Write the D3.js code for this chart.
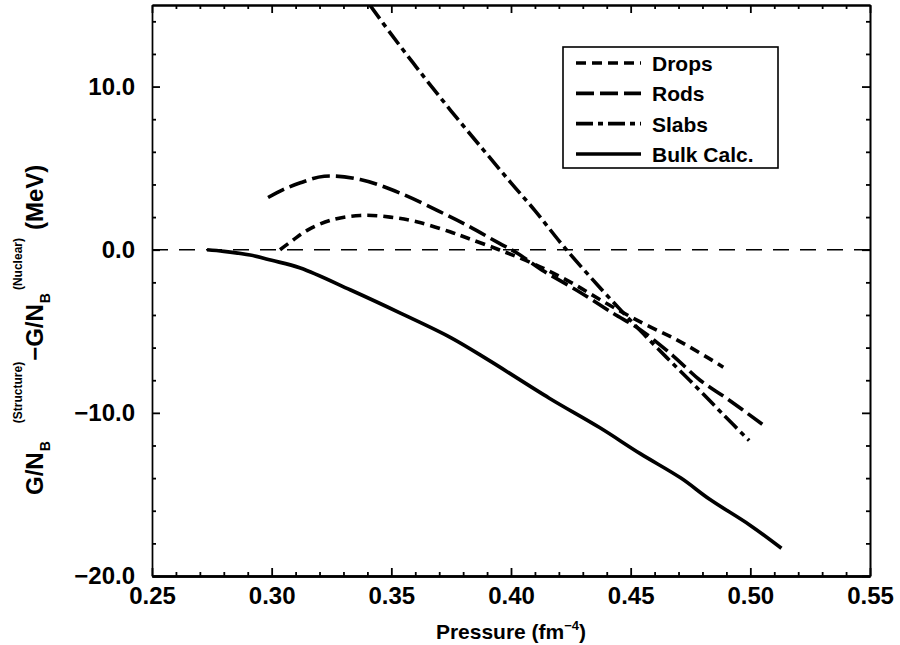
<!DOCTYPE html>
<html>
<head>
<meta charset="utf-8">
<script src="https://cdn.jsdelivr.net/npm/d3@7/dist/d3.min.js"></script>
<style>
  html, body { margin: 0; padding: 0; background: #fff; }
  svg { display: block; font-family: "Liberation Sans", Arial, Helvetica, sans-serif; font-weight: bold; }
</style>
</head>
<body>
<svg id="chart" width="900" height="645"></svg>
<script>
// ---------------- data ----------------
const seriesNames = ["Drops", "Rods", "Slabs", "Bulk Calc."];

const dropsX = [0.3035, 0.309, 0.315, 0.3245, 0.337, 0.3495, 0.361, 0.3745, 0.382, 0.395, 0.41, 0.425, 0.44, 0.455, 0.469, 0.482, 0.4887];
const dropsY = [0.0, 0.6, 1.2, 1.8, 2.1, 2.0, 1.7, 1.1, 0.7, 0.0, -0.9, -2.0, -3.3, -4.5, -5.5, -6.6, -7.2];

const rodsX = [0.2985, 0.305, 0.312, 0.322, 0.337, 0.354, 0.370, 0.3816, 0.395, 0.4025, 0.413, 0.4276, 0.4427, 0.454, 0.4677, 0.479, 0.490, 0.505];
const rodsY = [3.2, 3.7, 4.1, 4.5, 4.3, 3.45, 2.35, 1.5, 0.4, -0.2, -1.25, -2.5, -3.9, -4.9, -6.5, -8.0, -9.1, -10.7];

const slabsX = [0.341, 0.35, 0.362, 0.375, 0.388, 0.40, 0.41, 0.422, 0.437, 0.451, 0.465, 0.476, 0.488, 0.4995];
const slabsY = [15.0, 13.2, 10.9, 8.5, 6.2, 4.1, 2.4, 0.2, -2.3, -4.5, -6.6, -8.2, -10.0, -11.7];

const bulkX = [0.273, 0.28, 0.291, 0.30, 0.312, 0.333, 0.354, 0.375, 0.391, 0.416, 0.437, 0.454, 0.471, 0.483, 0.50, 0.513];
const bulkY = [0.0, -0.1, -0.33, -0.65, -1.12, -2.47, -3.9, -5.4, -6.8, -9.1, -10.9, -12.5, -14.0, -15.3, -16.9, -18.3];

const xMajorTicks = [0.25, 0.30, 0.35, 0.40, 0.45, 0.50, 0.55];
const yMajorTicks = [-20, -10, 0, 10];
const xDomain = [0.25, 0.55];
const yDomain = [-20, 15];

// ---------------- styles ----------------
const dashStyle = {
  "Drops": "10,6",
  "Rods": "18,6",
  "Slabs": "17,5,5,5",
  "Bulk Calc.": null
};

const svg = d3.select("#chart");
const L = 152, R = 870, T = 5, B = 576;
const x = d3.scaleLinear().domain(xDomain).range([L, R]);
const y = d3.scaleLinear().domain(yDomain).range([B, T]);

const xMinor = d3.range(25, 56).map(v => v / 100).filter(v => !xMajorTicks.some(m => Math.abs(m - v) < 1e-9));
const yMinor = d3.range(-20, 16, 2).filter(v => !yMajorTicks.includes(v));

// clip
svg.append("defs").append("clipPath").attr("id", "clip")
  .append("rect").attr("x", L).attr("y", T).attr("width", R - L).attr("height", B - T);

// zero line
svg.append("line")
  .attr("x1", x(xDomain[0])).attr("x2", x(xDomain[1]))
  .attr("y1", y(0)).attr("y2", y(0))
  .attr("stroke", "#000").attr("stroke-width", 1.6)
  .attr("stroke-dasharray", "16,11");

// axes
function styleAxis(g, w) {
  g.select(".domain").attr("stroke", "#000").attr("stroke-width", w);
  g.selectAll(".tick line").attr("stroke", "#000").attr("stroke-width", 1.8);
}
const labelFont = "Liberation Sans, Arial, sans-serif";
// bottom
const gB = svg.append("g").attr("transform", `translate(0,${B})`)
  .call(d3.axisBottom(x).tickValues(xMajorTicks).tickSizeInner(-8).tickSizeOuter(0).tickFormat(d3.format(".2f")).tickPadding(11));
styleAxis(gB, 2.6);
gB.selectAll(".tick text").attr("font-size", 24).attr("font-weight", "bold").attr("fill", "#000")
  .attr("font-family", labelFont).attr("dy", "0.72em");
svg.append("g").attr("transform", `translate(0,${B})`)
  .call(d3.axisBottom(x).tickValues(xMinor).tickSizeInner(-4).tickSizeOuter(0).tickFormat(""))
  .call(g => styleAxis(g, 2.6));
// top
svg.append("g").attr("transform", `translate(0,${T})`)
  .call(d3.axisTop(x).tickValues(xMajorTicks).tickSizeInner(-8).tickSizeOuter(0).tickFormat(""))
  .call(g => styleAxis(g, 2.2));
svg.append("g").attr("transform", `translate(0,${T})`)
  .call(d3.axisTop(x).tickValues(xMinor).tickSizeInner(-4).tickSizeOuter(0).tickFormat(""))
  .call(g => styleAxis(g, 2.2));
// left
const gL = svg.append("g").attr("transform", `translate(${L},0)`)
  .call(d3.axisLeft(y).tickValues(yMajorTicks).tickSizeInner(-8).tickSizeOuter(0).tickFormat(d3.format(".1f")).tickPadding(17));
styleAxis(gL, 1.4);
gL.selectAll(".tick text").attr("font-size", 24).attr("font-weight", "bold").attr("fill", "#000")
  .attr("font-family", labelFont);
svg.append("g").attr("transform", `translate(${L},0)`)
  .call(d3.axisLeft(y).tickValues(yMinor).tickSizeInner(-4).tickSizeOuter(0).tickFormat(""))
  .call(g => styleAxis(g, 1.4));
// right
svg.append("g").attr("transform", `translate(${R},0)`)
  .call(d3.axisRight(y).tickValues(yMajorTicks).tickSizeInner(-8).tickSizeOuter(0).tickFormat(""))
  .call(g => styleAxis(g, 1.6));
svg.append("g").attr("transform", `translate(${R},0)`)
  .call(d3.axisRight(y).tickValues(yMinor).tickSizeInner(-4).tickSizeOuter(0).tickFormat(""))
  .call(g => styleAxis(g, 1.6));

// curves
const line = d3.line().x(d => x(d[0])).y(d => y(d[1])).curve(d3.curveCatmullRom.alpha(0.5));
const seriesData = {
  "Drops": d3.zip(dropsX, dropsY),
  "Rods": d3.zip(rodsX, rodsY),
  "Slabs": d3.zip(slabsX, slabsY),
  "Bulk Calc.": d3.zip(bulkX, bulkY)
};
const plot = svg.append("g").attr("clip-path", "url(#clip)");
seriesNames.forEach(name => {
  plot.append("path")
    .attr("d", line(seriesData[name]))
    .attr("fill", "none").attr("stroke", "#000")
    .attr("stroke-width", 3.6)
    .attr("stroke-linecap", "butt")
    .attr("stroke-dasharray", dashStyle[name]);
});

// legend
const lg = svg.append("g");
lg.append("rect").attr("x", 563).attr("y", 47).attr("width", 215).attr("height", 121)
  .attr("fill", "#fff").attr("stroke", "#000").attr("stroke-width", 1.6);
const rowY = d3.scalePoint().domain(seriesNames).range([63, 154]);
seriesNames.forEach(name => {
  lg.append("line").attr("x1", 576).attr("x2", 641)
    .attr("y1", rowY(name)).attr("y2", rowY(name))
    .attr("stroke", "#000").attr("stroke-width", 3.6)
    .attr("stroke-dasharray", dashStyle[name]);
  lg.append("text").attr("x", 652).attr("y", rowY(name) + 8)
    .attr("font-size", 21).attr("font-weight", "bold").text(name);
});

// x label
const xl = svg.append("text").attr("x", 511).attr("y", 639).attr("text-anchor", "middle")
  .attr("font-size", 21).attr("font-weight", "bold");
xl.append("tspan").text("Pressure (fm");
xl.append("tspan").attr("dy", -9).attr("font-size", 13).text("−4");
xl.append("tspan").attr("dy", 9).text(")");

// y label (rotated), laid out piece by piece
const yl = svg.append("g").attr("transform", "translate(43,0) rotate(-90)");
let cursor = -495;
function piece(txt, size, off, gapBefore, advance) {
  cursor += gapBefore;
  const t = yl.append("text").attr("x", cursor).attr("y", off).attr("font-size", size)
    .attr("font-weight", "bold").text(txt);
  const w = t.node().getComputedTextLength();
  if (advance) cursor += w;
  return w;
}
piece("G/N", 24, 0, 0, true);
piece("B", 14, 7, 1, true);
piece("(Structure)", 12, -21, 18, true);
piece("−G/N", 24, 0, 1, true);
piece("B", 14, 7, 1, true);
piece("(Nuclear)", 12, -21, 3, true);
piece("(MeV)", 24, 0, 8, true);
</script>
</body>
</html>
